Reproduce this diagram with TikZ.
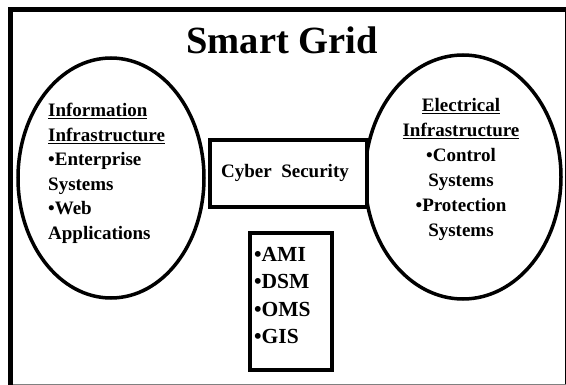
\documentclass[tikz,border=0pt]{standalone}
\usepackage{fontspec}
\setmainfont{Liberation Serif}
\usetikzlibrary{shapes.geometric}
\begin{document}
\begin{tikzpicture}[x=1pt,y=-1pt,
  oval/.style={ellipse, draw, line width=3.5pt, inner sep=0pt},
  thickbox/.style={draw, line width=4pt, fill=white, inner sep=0pt},
  txt/.style={inner sep=0pt}]
\useasboundingbox (0,0) rectangle (566,385);
\coordinate (tl) at (10.5,9.5);
\coordinate (tr) at (565.5,9.5);
\coordinate (bl) at (10.5,384.5);
\coordinate (br) at (565.5,384.5);
\draw[line width=1pt] (tr) -- (br);
\draw[line width=1pt, gray] (bl) -- (br);
\draw[line width=4.5pt, line cap=rect] (bl) -- (tl) -- (tr);
\node[font=\bfseries\fontsize{38.5}{40}\selectfont, inner sep=0pt] (title) at (282,40) {Smart Grid};
\node[oval, minimum width=186pt, minimum height=240pt] (info) at (111,178) {};
\node[oval, minimum width=196pt, minimum height=244pt] (elec) at (463,177) {};
\node[thickbox, minimum width=157pt, minimum height=67pt] (cyber) at (288.5,173.5) {};
\node[txt, font=\bfseries\fontsize{19}{22}\selectfont] (cybertext) at (285,173) {Cyber\ \ Security};
\node[thickbox, minimum width=82pt, minimum height=137pt] (apps) at (291,301.5) {};
\node[txt, align=left, anchor=north west, font=\bfseries\fontsize{21.5}{27.5}\selectfont] (appstext) at (254,247) {•AMI\\•DSM\\•OMS\\•GIS};
\node[txt, align=left, anchor=north west, font=\bfseries\fontsize{19}{24.5}\selectfont] (infotext) at (48,103) {\underline{Information}\\\underline{Infrastructure}\\•Enterprise\\Systems\\•Web\\Applications};
\node[txt, align=center, anchor=north, font=\bfseries\fontsize{19}{25}\selectfont] (electext) at (461,98) {\underline{Electrical}\\\underline{Infrastructure}\\•Control\\Systems\\•Protection\\Systems};
\end{tikzpicture}
\end{document}
